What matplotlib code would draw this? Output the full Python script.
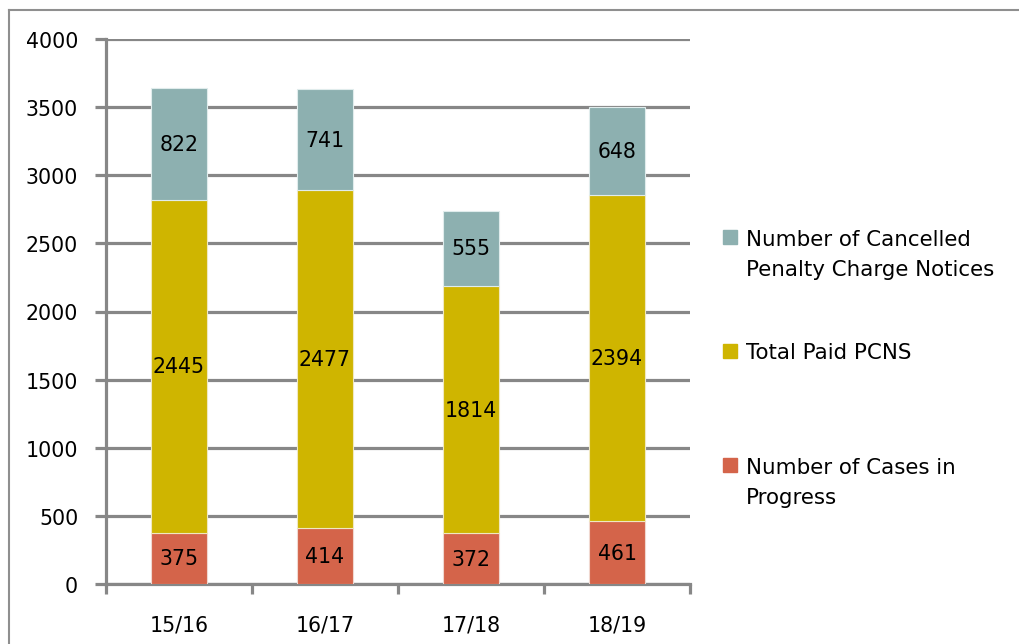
import matplotlib
matplotlib.use("Agg")
import matplotlib.pyplot as plt
from matplotlib.lines import Line2D
from matplotlib.patches import Rectangle
import numpy as np

categories = ["15/16", "16/17", "17/18", "18/19"]
cases_in_progress = [375, 414, 372, 461]
total_paid = [2445, 2477, 1814, 2394]
cancelled = [822, 741, 555, 648]

series_names = ["Number of Cancelled\nPenalty Charge Notices", "Total Paid PCNS",
                "Number of Cases in\nProgress"]
colors = {"cases": "#D4644A", "paid": "#CFB500", "cancelled": "#8DB0B0"}
yticks = [0, 500, 1000, 1500, 2000, 2500, 3000, 3500, 4000]

plt.rcParams['font.family'] = ['DejaVu Sans']
FS = 14.8
FS_LEG = 15.4
GRID = "#878787"

fig = plt.figure(figsize=10.19 * np.array([1, 645 / 1019]), dpi=100)
ax = fig.add_axes([106 / 1019, 1 - 585 / 645, (690 - 106) / 1019, (585 - 40) / 645])

x = np.arange(len(categories))
w = 0.39
cases = np.array(cases_in_progress)
paid = np.array(total_paid)
canc = np.array(cancelled)

b1 = ax.bar(x, cases, w, color=colors["cases"], edgecolor="#F0D8D0", linewidth=0.8, zorder=3)
b2 = ax.bar(x, paid, w, bottom=cases, color=colors["paid"], edgecolor="#F0E8C0", linewidth=0.8, zorder=3)
b3 = ax.bar(x, canc, w, bottom=cases + paid, color=colors["cancelled"], edgecolor="#E0ECEC", linewidth=0.8, zorder=3)

for bars, vals, bottoms in [(b1, cases, np.zeros(4)), (b2, paid, cases), (b3, canc, cases + paid)]:
    for xi, v, b in zip(x, vals, bottoms):
        ax.text(xi, b + v / 2, str(v), ha="center", va="center", fontsize=FS, color="black", zorder=4)

ax.set_xlim(-0.5, len(categories) - 0.5)
ax.set_ylim(0, 4000)
ax.set_yticks(yticks)
ax.set_yticklabels([str(t) for t in yticks], fontsize=FS)
ax.yaxis.grid(True, color=GRID, linewidth=2.3, zorder=0)
ax.set_axisbelow(True)
ax.tick_params(axis="y", length=8, width=2.3, color=GRID, pad=12)

ax.set_xticks(x)
ax.set_xticklabels(categories, fontsize=FS)
ax.tick_params(axis="x", which="major", length=0, pad=22)
ax.set_xticks(np.arange(-0.5, len(categories)), minor=True)
ax.tick_params(axis="x", which="minor", length=7, width=2.3, color=GRID, direction="out")

for s in ["top", "right"]:
    ax.spines[s].set_visible(False)
for s in ["left", "bottom"]:
    ax.spines[s].set_color(GRID)
    ax.spines[s].set_linewidth(2.3)

# legend (manual, Excel-like): square centre y, text block centre y
leg_items = [(series_names[0], colors["cancelled"], 238, 255),
             (series_names[1], colors["paid"], 352, 353),
             (series_names[2], colors["cases"], 466, 483)]
for label, col, ysq, ytxt in leg_items:
    fig.add_artist(Rectangle((723 / 1019, 1 - (ysq + 7) / 645), 14 / 1019, 14 / 645,
                             transform=fig.transFigure, color=col))
    fig.text(746 / 1019, 1 - ytxt / 645, label, fontsize=FS_LEG, va="center", ha="left",
             linespacing=1.62)

# outer frame (top and left visible)
fig.add_artist(Line2D([9 / 1019, 9 / 1019], [0, 1 - 11 / 645], transform=fig.transFigure,
                      color="#8F8F8F", linewidth=1.5))
fig.add_artist(Line2D([9 / 1019, 1], [1 - 11 / 645, 1 - 11 / 645], transform=fig.transFigure,
                      color="#8F8F8F", linewidth=1.5))

fig.savefig("out.png", dpi=100)
